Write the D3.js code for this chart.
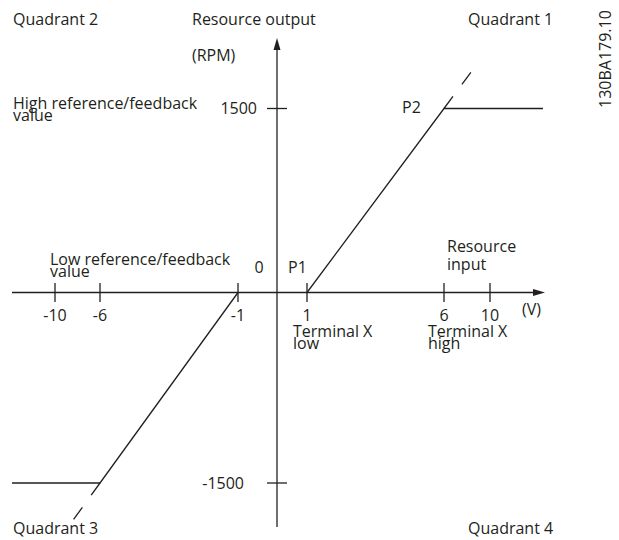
<!DOCTYPE html>
<html>
<head>
<meta charset="utf-8">
<script src="https://cdn.jsdelivr.net/npm/d3@7"></script>
<style>
  html, body { margin: 0; padding: 0; background: #fff; }
  text { font-family: "Open Sans", sans-serif; font-size: 16px; fill: #231f20; }
</style>
</head>
<body>
<svg id="chart" width="619" height="540"></svg>
<script>
// ---- data ----
const xTickValues = [-10, -6, -1, 1, 6, 10];
const xTickLabels = ["-10", "-6", "-1", "1", "6", "10"];
const yTickValues = [1500, -1500];
const yTickLabels = ["1500", "-1500"];
// transfer curve (input V -> output RPM)
const curveUpperX = [1, 6, 14];
const curveUpperY = [0, 1500, 1500];
const curveLowerX = [-14, -6, -1];
const curveLowerY = [-1500, -1500, 0];
const quadrantLabels = ["Quadrant 1", "Quadrant 2", "Quadrant 3", "Quadrant 4"];
const docCode = "130BA179.10";

// ---- scales (schematic, piecewise) ----
const x = d3.scaleLinear()
  .domain([-14, -10, -6, -1, 0, 1, 6, 10, 14])
  .range([12, 55, 100, 238, 277, 307, 444, 490, 543]);
const y = d3.scaleLinear()
  .domain([-1500, 0, 1500])
  .range([483, 292.5, 108.5]);

const svg = d3.select("#chart");
const ink = "#231f20";
const sw = 1.3;

// axes
const x0 = x(0), y0 = y(0);
svg.append("line").attr("x1", 12).attr("x2", 535).attr("y1", y0).attr("y2", y0)
  .attr("stroke", ink).attr("stroke-width", sw);
svg.append("path").attr("d", `M545,${y0} L533,${y0-3.5} L533,${y0+3.5} Z`).attr("fill", ink);
svg.append("line").attr("x1", x0).attr("x2", x0).attr("y1", 527).attr("y2", 48)
  .attr("stroke", ink).attr("stroke-width", sw);
svg.append("path").attr("d", `M${x0},38 L${x0-3.5},50 L${x0+3.5},50 Z`).attr("fill", ink);

// x ticks
const xt = svg.append("g");
xTickValues.forEach((v, i) => {
  xt.append("line").attr("x1", x(v)).attr("x2", x(v)).attr("y1", y0 - 9.5).attr("y2", y0 + 9.5)
    .attr("stroke", ink).attr("stroke-width", sw);
  xt.append("text").attr("x", x(v)).attr("y", 321).attr("text-anchor", "middle").text(xTickLabels[i]);
});
// y ticks
const yt = svg.append("g");
yTickValues.forEach((v, i) => {
  yt.append("line").attr("x1", x0 - 10).attr("x2", x0 + 10).attr("y1", y(v)).attr("y2", y(v))
    .attr("stroke", ink).attr("stroke-width", sw);
  yt.append("text").attr("x", v > 0 ? 257 : 244).attr("y", y(v) + 5.5)
    .attr("text-anchor", "end").text(yTickLabels[i]);
});

// curves
const line = d3.line().x(d => x(d[0])).y(d => y(d[1]));
svg.append("path").datum(d3.zip(curveUpperX, curveUpperY)).attr("d", line)
  .attr("fill", "none").attr("stroke", ink).attr("stroke-width", sw);
svg.append("path").datum(d3.zip(curveLowerX, curveLowerY)).attr("d", line)
  .attr("fill", "none").attr("stroke", ink).attr("stroke-width", sw);

// dashed extensions beyond P2 and below the low point
function extend(ax, ay, bx, by, len) {
  const dx = x(bx) - x(ax), dy = y(by) - y(ay);
  const L = Math.hypot(dx, dy);
  return [x(bx), y(by), x(bx) + dx / L * len, y(by) + dy / L * len];
}
[[1, 0, 6, 1500], [-1, 0, -6, -1500]].forEach(s => {
  const e = extend(s[0], s[1], s[2], s[3], 48);
  svg.append("line").attr("x1", e[0]).attr("y1", e[1]).attr("x2", e[2]).attr("y2", e[3])
    .attr("stroke", ink).attr("stroke-width", sw).attr("stroke-dasharray", "15,15");
});

// labels
function label(tx, ty, lines, lh, anchor) {
  const t = svg.append("text").attr("x", tx).attr("y", ty).attr("text-anchor", anchor || "start");
  lines.forEach((s, i) => t.append("tspan").attr("x", tx).attr("dy", i === 0 ? 0 : lh).text(s));
}
label(468, 25, [quadrantLabels[0]]);
label(13, 25, [quadrantLabels[1]]);
label(13, 534, [quadrantLabels[2]]);
label(468, 534, [quadrantLabels[3]]);
label(192, 25, ["Resource output"]);
label(192, 61, ["(RPM)"]);
label(13, 109, ["High reference/feedback", "value"], 12);
label(50, 265, ["Low reference/feedback", "value"], 12);
label(x0 - 18, 273, ["0"], 0, "middle");
label(x(1) - 19, 273, ["P1"]);
label(x(6) - 42, 113, ["P2"]);
label(447, 252, ["Resource", "input"], 18);
label(522, 315, ["(V)"]);
label(x(1) - 14, 337, ["Terminal X", "low"], 12);
label(x(6) - 16, 337, ["Terminal X", "high"], 12);

svg.append("text").attr("transform", "translate(611,108) rotate(-90)")
  .attr("text-anchor", "start").text(docCode);
</script>
</body>
</html>
